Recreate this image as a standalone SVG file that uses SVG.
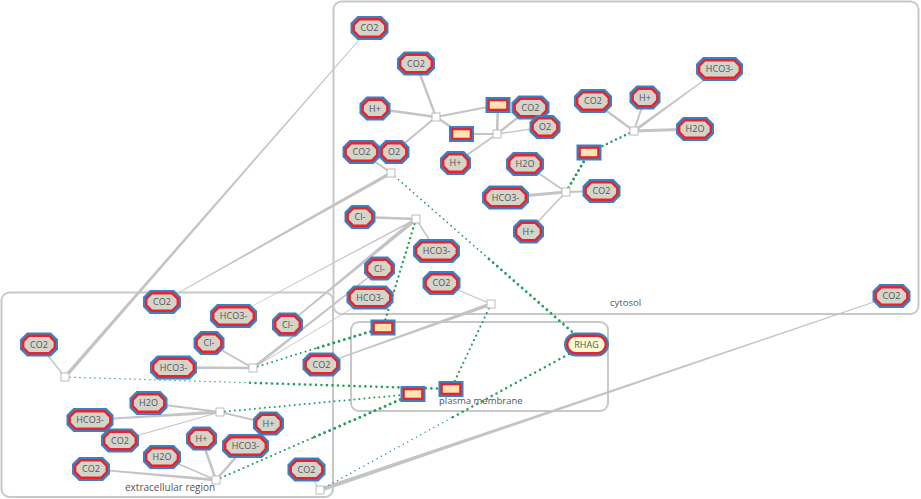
<svg xmlns="http://www.w3.org/2000/svg" width="921" height="499" viewBox="0 0 921 499">
<style>
.ob{fill:#3d7fc2}
.ib{fill:#d5d4cb;stroke:#e5252b;stroke-width:2.4}
.t{font-family:"Open Sans","DejaVu Sans",sans-serif;font-size:9px;fill:#555;text-anchor:middle}
.lb{font-family:"Open Sans","DejaVu Sans",sans-serif;fill:#555}
.rx{fill:#fff;stroke:#bcbcbc;stroke-width:1}
.e{stroke:#c4c4c4;fill:none}
.w{fill:#c4c4c4}
.cat{stroke:#21a05a;fill:none;stroke-linecap:round}
.comp{fill:none;stroke:#c8c8c8;stroke-width:2}
</style>
<defs>
<g id="oA"><polygon class="ob" points="-12,-12 12,-12 19,-5 19,5 12,12 -12,12 -19,5 -19,-5"/><polygon class="ib" points="-10.1,-8.8 10.1,-8.8 15.8,-3.1 15.8,3.1 10.1,8.8 -10.1,8.8 -15.8,3.1 -15.8,-3.1"/></g>
<g id="oB"><polygon class="ob" points="-16.5,-12 16.5,-12 23.5,-5 23.5,5 16.5,12 -16.5,12 -23.5,5 -23.5,-5"/><polygon class="ib" points="-14.6,-8.8 14.6,-8.8 20.3,-3.1 20.3,3.1 14.6,8.8 -14.6,8.8 -20.3,3.1 -20.3,-3.1"/></g>
<g id="oC"><polygon class="ob" points="-8.5,-12 8.5,-12 15.5,-5 15.5,5 8.5,12 -8.5,12 -15.5,5 -15.5,-5"/><polygon class="ib" points="-6.6,-8.8 6.6,-8.8 12.3,-3.1 12.3,3.1 6.6,8.8 -6.6,8.8 -12.3,3.1 -12.3,-3.1"/></g>
<g id="pr"><rect class="ob" x="-12.5" y="-8" width="25" height="16"/><rect x="-9.3" y="-4.8" width="18.6" height="9.6" fill="#fde2b2" stroke="#e5252b" stroke-width="2.2"/></g>
<rect id="rn" class="rx" x="-4" y="-4" width="8" height="8"/>
</defs>

<g id="compartments">
<rect class="comp" x="333.5" y="1.5" width="585" height="312.5" rx="8"/>
<rect class="comp" x="1.5" y="292.5" width="331.5" height="204.5" rx="8"/>
<rect class="comp" x="351" y="322" width="257" height="89" rx="8"/>
<text class="lb" x="610" y="306" font-size="9.5">cytosol</text>
<text class="lb" x="439" y="404" font-size="9.5">plasma membrane</text>
<text class="lb" x="125" y="491" font-size="10">extracellular region</text>
</g>

<g id="connectors">
<polygon class="w" points="66.32,378.15 369.8,28.26 369.2,27.74 63.68,375.85"/>
<line class="e" x1="65" y1="377" x2="39" y2="344.5" stroke-width="1.5"/>
<polygon class="w" points="390.14,171.48 161.8,301.65 162.2,302.35 391.86,174.53"/>
<line class="e" x1="391" y1="173" x2="361.5" y2="152" stroke-width="2"/>
<line class="e" x1="436" y1="117" x2="416" y2="63.5" stroke-width="2.3"/>
<line class="e" x1="436" y1="117" x2="375" y2="108.5" stroke-width="2.3"/>
<line class="e" x1="436" y1="117" x2="394" y2="152" stroke-width="2"/>
<line class="e" x1="436" y1="117" x2="498" y2="105" stroke-width="2"/>
<line class="e" x1="436" y1="117" x2="461.5" y2="134" stroke-width="2.5"/>
<line class="e" x1="497" y1="134" x2="461.5" y2="134" stroke-width="2"/>
<line class="e" x1="497" y1="134" x2="498" y2="105" stroke-width="2.6"/>
<line class="e" x1="497" y1="134" x2="530.5" y2="107.5" stroke-width="2.3"/>
<line class="e" x1="497" y1="134" x2="545" y2="127" stroke-width="1.3"/>
<line class="e" x1="497" y1="134" x2="455.5" y2="163" stroke-width="1.8"/>
<line class="e" x1="566" y1="192" x2="525" y2="164" stroke-width="1.8"/>
<line class="e" x1="566" y1="192" x2="505.5" y2="197.5" stroke-width="3"/>
<line class="e" x1="566" y1="192" x2="601.5" y2="191" stroke-width="1.8"/>
<line class="e" x1="566" y1="192" x2="528.5" y2="231.5" stroke-width="1.5"/>
<line class="e" x1="634" y1="131" x2="593" y2="101" stroke-width="2.3"/>
<line class="e" x1="634" y1="131" x2="645" y2="97.5" stroke-width="2"/>
<polygon class="w" points="634.88,132.21 719.74,69.32 719.26,68.68 633.12,129.79"/>
<line class="e" x1="634" y1="131" x2="695" y2="129" stroke-width="3"/>
<line class="e" x1="416" y1="219" x2="360" y2="217" stroke-width="2.5"/>
<line class="e" x1="416" y1="219" x2="436.5" y2="251" stroke-width="1.5"/>
<polygon class="w" points="414.73,217.46 287.02,323.92 287.98,325.08 417.27,220.55"/>
<polygon class="w" points="415.65,218.34 233.36,315.74 233.64,316.26 416.35,219.66"/>
<line class="e" x1="253" y1="368" x2="209" y2="343" stroke-width="2"/>
<line class="e" x1="253" y1="368" x2="173.5" y2="367.5" stroke-width="2.5"/>
<polygon class="w" points="253.93,369.18 379.96,269.09 379.04,267.91 252.07,366.82"/>
<line class="e" x1="253" y1="368" x2="370" y2="297.5" stroke-width="0.9"/>
<line class="e" x1="220" y1="412" x2="148.5" y2="403" stroke-width="2"/>
<polygon class="w" points="219.89,410.25 89.95,419.25 90.05,420.75 220.11,413.75"/>
<line class="e" x1="220" y1="412" x2="120" y2="440.5" stroke-width="1.2"/>
<line class="e" x1="220" y1="412" x2="268.5" y2="423.5" stroke-width="1.8"/>
<line class="e" x1="216" y1="480" x2="201.5" y2="438.5" stroke-width="2.5"/>
<line class="e" x1="216" y1="480" x2="245.5" y2="446" stroke-width="2.5"/>
<line class="e" x1="216" y1="480" x2="162" y2="457" stroke-width="1.5"/>
<polygon class="w" points="216.13,478.51 91.07,468.25 90.93,469.75 215.87,481.49"/>
<line class="e" x1="491" y1="304" x2="441.5" y2="283" stroke-width="1.3"/>
<polygon class="w" points="490.41,302.35 321.37,364.12 321.63,364.88 491.59,305.65"/>
<line class="e" x1="320" y1="490" x2="306.5" y2="469.5" stroke-width="1.2"/>
<polygon class="w" points="320.64,491.89 891.63,296.38 891.37,295.62 319.36,488.11"/>

<line class="cat" x1="391" y1="173" x2="489" y2="259" stroke-width="1.8" stroke-dasharray="0 5"/>
<line class="cat" x1="489" y1="259" x2="586.5" y2="344.5" stroke-width="2.8" stroke-dasharray="0 5.5"/>
<line class="cat" x1="416" y1="219" x2="383" y2="327.5" stroke-width="2.4" stroke-dasharray="0 5"/>
<line class="cat" x1="253" y1="368" x2="318" y2="347.7" stroke-width="2" stroke-dasharray="0 5"/>
<line class="cat" x1="318" y1="347.7" x2="383" y2="327.5" stroke-width="3" stroke-dasharray="0 5.5"/>
<line class="cat" x1="65" y1="377" x2="250" y2="382.8" stroke-width="1.5" stroke-dasharray="0 5"/>
<line class="cat" x1="250" y1="382.8" x2="451" y2="389" stroke-width="2.6" stroke-dasharray="0 5.5"/>
<line class="cat" x1="220" y1="412" x2="413" y2="394" stroke-width="2" stroke-dasharray="0 5"/>
<line class="cat" x1="216" y1="480" x2="314.5" y2="437" stroke-width="2.2" stroke-dasharray="0 5"/>
<line class="cat" x1="314.5" y1="437" x2="413" y2="394" stroke-width="3" stroke-dasharray="0 5.5"/>
<line class="cat" x1="320" y1="490" x2="453" y2="417" stroke-width="1.5" stroke-dasharray="0 5"/>
<line class="cat" x1="453" y1="417" x2="586.5" y2="344.5" stroke-width="2.5" stroke-dasharray="0 5.5"/>
<line class="cat" x1="491" y1="304" x2="451" y2="389" stroke-width="2.2" stroke-dasharray="0 5"/>
<line class="cat" x1="634" y1="131" x2="589" y2="152.5" stroke-width="2.5" stroke-dasharray="0 5"/>
<line class="cat" x1="566" y1="192" x2="589" y2="152.5" stroke-width="3" stroke-dasharray="0 5"/>
</g>

<g id="reactions">
<use href="#rn" x="436" y="117"/>
<use href="#rn" x="497" y="134"/>
<use href="#rn" x="391" y="173"/>
<use href="#rn" x="416" y="219"/>
<use href="#rn" x="566" y="192"/>
<use href="#rn" x="634" y="131"/>
<use href="#rn" x="491" y="304"/>
<use href="#rn" x="253" y="368"/>
<use href="#rn" x="65" y="377"/>
<use href="#rn" x="220" y="412"/>
<use href="#rn" x="216" y="480"/>
<use href="#rn" x="320" y="490"/>
</g>

<g id="n1" transform="translate(369.5,28)"><use href="#oA"/><text class="t" y="3.2">CO2</text></g>
<g id="n2" transform="translate(416,63.5)"><use href="#oA"/><text class="t" y="3.2">CO2</text></g>
<g id="n3" transform="translate(375,108.5)"><use href="#oC"/><text class="t" y="3.2">H+</text></g>
<g id="n4" transform="translate(361.5,152)"><use href="#oA"/><text class="t" y="3.2">CO2</text></g>
<g id="n5" transform="translate(394,152)"><use href="#oC"/><text class="t" y="3.2">O2</text></g>
<g id="n6" transform="translate(455.5,163)"><use href="#oC"/><text class="t" y="3.2">H+</text></g>
<g id="p1" transform="translate(498,105)"><use href="#pr"/></g>
<g id="p2" transform="translate(461.5,134)"><use href="#pr"/></g>
<g id="n7" transform="translate(530.5,107.5)"><use href="#oA"/><text class="t" y="3.2">CO2</text></g>
<g id="n8" transform="translate(545,127)"><use href="#oC"/><text class="t" y="3.2">O2</text></g>
<g id="n9" transform="translate(593,101)"><use href="#oA"/><text class="t" y="3.2">CO2</text></g>
<g id="n10" transform="translate(645,97.5)"><use href="#oC"/><text class="t" y="3.2">H+</text></g>
<g id="n11" transform="translate(719.5,69)"><use href="#oB"/><text class="t" y="3.2">HCO3-</text></g>
<g id="n12" transform="translate(695,129)"><use href="#oA"/><text class="t" y="3.2">H2O</text></g>
<g id="p3" transform="translate(589,152.5)"><use href="#pr"/></g>
<g id="n13" transform="translate(525,164)"><use href="#oA"/><text class="t" y="3.2">H2O</text></g>
<g id="n14" transform="translate(505.5,197.5)"><use href="#oB"/><text class="t" y="3.2">HCO3-</text></g>
<g id="n15" transform="translate(601.5,191)"><use href="#oA"/><text class="t" y="3.2">CO2</text></g>
<g id="n16" transform="translate(528.5,231.5)"><use href="#oC"/><text class="t" y="3.2">H+</text></g>
<g id="n17" transform="translate(360,217)"><use href="#oC"/><text class="t" y="3.2">Cl-</text></g>
<g id="n18" transform="translate(436.5,251)"><use href="#oB"/><text class="t" y="3.2">HCO3-</text></g>
<g id="n19" transform="translate(379.5,268.5)"><use href="#oC"/><text class="t" y="3.2">Cl-</text></g>
<g id="n20" transform="translate(370,297.5)"><use href="#oB"/><text class="t" y="3.2">HCO3-</text></g>
<g id="n21" transform="translate(441.5,283)"><use href="#oA"/><text class="t" y="3.2">CO2</text></g>
<g id="n22" transform="translate(891.5,296)"><use href="#oA"/><text class="t" y="3.2">CO2</text></g>
<g id="p4" transform="translate(383,327.5)"><use href="#pr"/></g>
<g id="p5" transform="translate(413,394)"><use href="#pr"/></g>
<g id="p6" transform="translate(451,389)"><use href="#pr"/></g>
<g id="rhag" transform="translate(586.5,344.5)"><rect class="ob" x="-22.5" y="-12" width="45" height="24" rx="12"/><rect x="-19.3" y="-8.8" width="38.6" height="17.6" rx="8.8" fill="#fefbd2" stroke="#e5252b" stroke-width="2.4"/><text class="t" y="3.2">RHAG</text></g>
<g id="n23" transform="translate(39,344.5)"><use href="#oA"/><text class="t" y="3.2">CO2</text></g>
<g id="n24" transform="translate(162,302)"><use href="#oA"/><text class="t" y="3.2">CO2</text></g>
<g id="n25" transform="translate(233.5,316)"><use href="#oB"/><text class="t" y="3.2">HCO3-</text></g>
<g id="n26" transform="translate(287.5,324.5)"><use href="#oC"/><text class="t" y="3.2">Cl-</text></g>
<g id="n27" transform="translate(209,343)"><use href="#oC"/><text class="t" y="3.2">Cl-</text></g>
<g id="n28" transform="translate(173.5,367.5)"><use href="#oB"/><text class="t" y="3.2">HCO3-</text></g>
<g id="n29" transform="translate(321.5,364.5)"><use href="#oA"/><text class="t" y="3.2">CO2</text></g>
<g id="n30" transform="translate(148.5,403)"><use href="#oA"/><text class="t" y="3.2">H2O</text></g>
<g id="n31" transform="translate(90,420)"><use href="#oB"/><text class="t" y="3.2">HCO3-</text></g>
<g id="n32" transform="translate(120,440.5)"><use href="#oA"/><text class="t" y="3.2">CO2</text></g>
<g id="n33" transform="translate(268.5,423.5)"><use href="#oC"/><text class="t" y="3.2">H+</text></g>
<g id="n34" transform="translate(201.5,438.5)"><use href="#oC"/><text class="t" y="3.2">H+</text></g>
<g id="n35" transform="translate(245.5,446)"><use href="#oB"/><text class="t" y="3.2">HCO3-</text></g>
<g id="n36" transform="translate(162,457)"><use href="#oA"/><text class="t" y="3.2">H2O</text></g>
<g id="n37" transform="translate(91,469)"><use href="#oA"/><text class="t" y="3.2">CO2</text></g>
<g id="n38" transform="translate(306.5,469.5)"><use href="#oA"/><text class="t" y="3.2">CO2</text></g>
</svg>
